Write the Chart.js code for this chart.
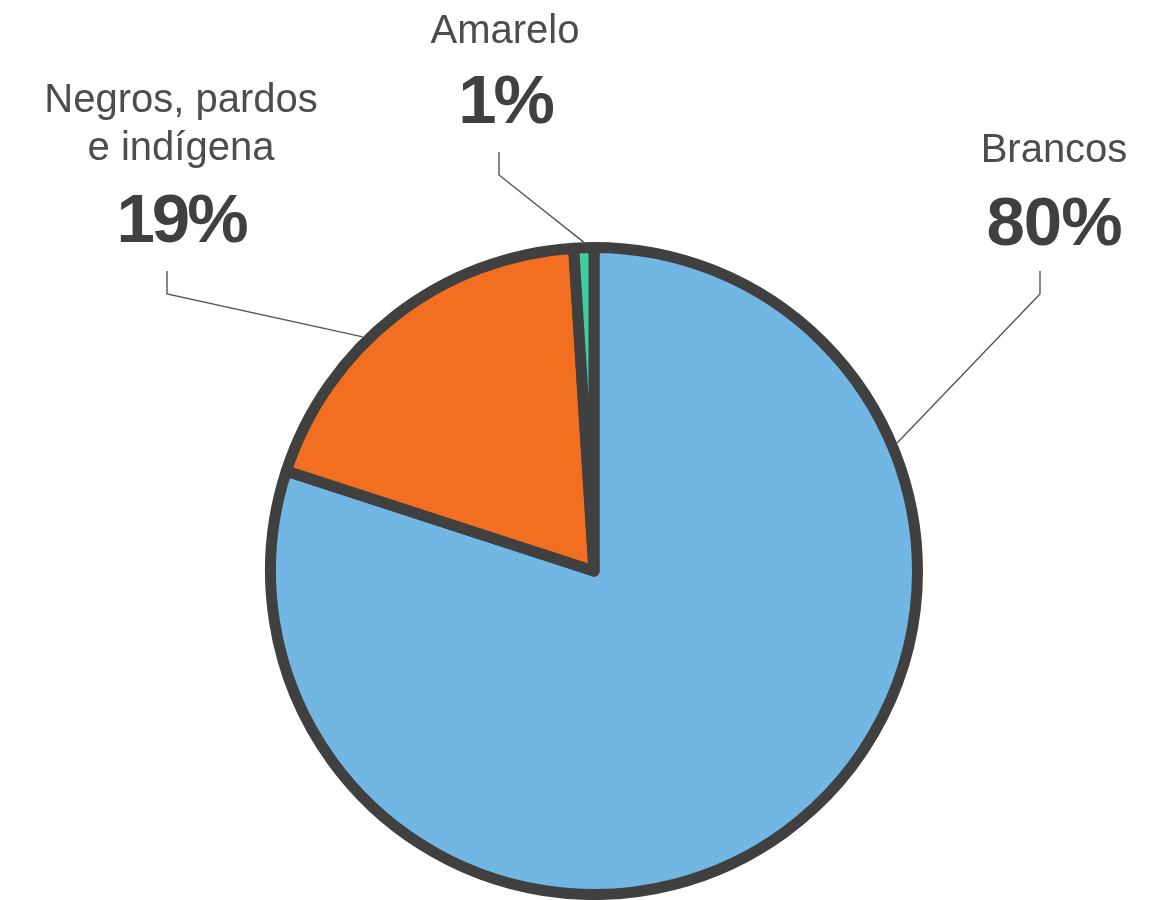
<!DOCTYPE html>
<html>
<head>
<meta charset="utf-8">
<script src="https://cdn.jsdelivr.net/npm/chart.js@4"></script>
<style>
  html, body { margin: 0; padding: 0; background: #ffffff; }
  #wrap { width: 1174px; height: 900px; position: relative; }
</style>
</head>
<body>
<div id="wrap"><canvas id="pieChart"></canvas></div>
<script>
// data
const categories = ["Brancos", "Negros, pardos e indígena", "Amarelo"];
const labelLines = [["Brancos"], ["Negros, pardos", "e indígena"], ["Amarelo"]];
const shares = [80, 19, 1];
const sliceColors = ["#72b6e3", "#f26f21", "#3fcfa3"];

// where each callout sits (text centre, baselines, elbow of leader line)
const callouts = [
  { x: 1054, nameBase: 162, pctBase: 245, elbowX: 1040, lineTop: 271, elbowY: 294, along: 0.233 },
  { x: 181, nameBase: 112, pctBase: 242, elbowX: 167, lineTop: 271, elbowY: 294, along: 0.40 },
  { x: 505, nameBase: 43, pctBase: 123, elbowX: 499, lineTop: 152, elbowY: 175, along: 0.5 },
];

const BORDER = 11;

const calloutPlugin = {
  id: "callouts",
  afterDraw(chart) {
    const ctx = chart.ctx;
    const arcs = chart.getDatasetMeta(0).data;
    ctx.save();
    arcs.forEach((arc, i) => {
      const c = callouts[i];
      const a = arc.startAngle + c.along * (arc.endAngle - arc.startAngle);
      const r = arc.outerRadius + BORDER / 2;
      const px = arc.x + Math.cos(a) * r;
      const py = arc.y + Math.sin(a) * r;

      // leader line
      ctx.strokeStyle = "#555555";
      ctx.lineWidth = 1.4;
      ctx.beginPath();
      ctx.moveTo(c.elbowX, c.lineTop);
      ctx.lineTo(c.elbowX, c.elbowY);
      ctx.lineTo(px, py);
      ctx.stroke();

      // texts
      ctx.textAlign = "center";
      ctx.textBaseline = "alphabetic";
      ctx.fillStyle = "#4d4d4d";
      ctx.font = "40px 'Liberation Sans', Arial, sans-serif";
      const lines = labelLines[i];
      lines.forEach((ln, k) => {
        ctx.fillText(ln, c.x, c.nameBase + k * 48);
      });
      ctx.fillStyle = "#404040";
      ctx.font = "bold 69px 'Liberation Sans', Arial, sans-serif";
      ctx.letterSpacing = shares[i] >= 20 ? "-1px" : "-3px";
      ctx.fillText(shares[i] + "%", c.x, c.pctBase);
      ctx.letterSpacing = "0px";
    });
    ctx.restore();
  },
};

new Chart(document.getElementById("pieChart"), {
  type: "pie",
  data: {
    labels: categories,
    datasets: [
      {
        data: shares,
        backgroundColor: sliceColors,
        borderColor: "#404040",
        borderWidth: BORDER,
        hoverBorderWidth: BORDER,
        borderJoinStyle: "round",
        hoverOffset: 0,
      },
    ],
  },
  options: {
    responsive: true,
    maintainAspectRatio: false,
    animation: false,
    layout: { padding: { left: 265, right: 251, top: 242, bottom: 0 } },
    plugins: {
      legend: { display: false },
      tooltip: { enabled: false },
    },
  },
  plugins: [calloutPlugin],
});
</script>
</body>
</html>
